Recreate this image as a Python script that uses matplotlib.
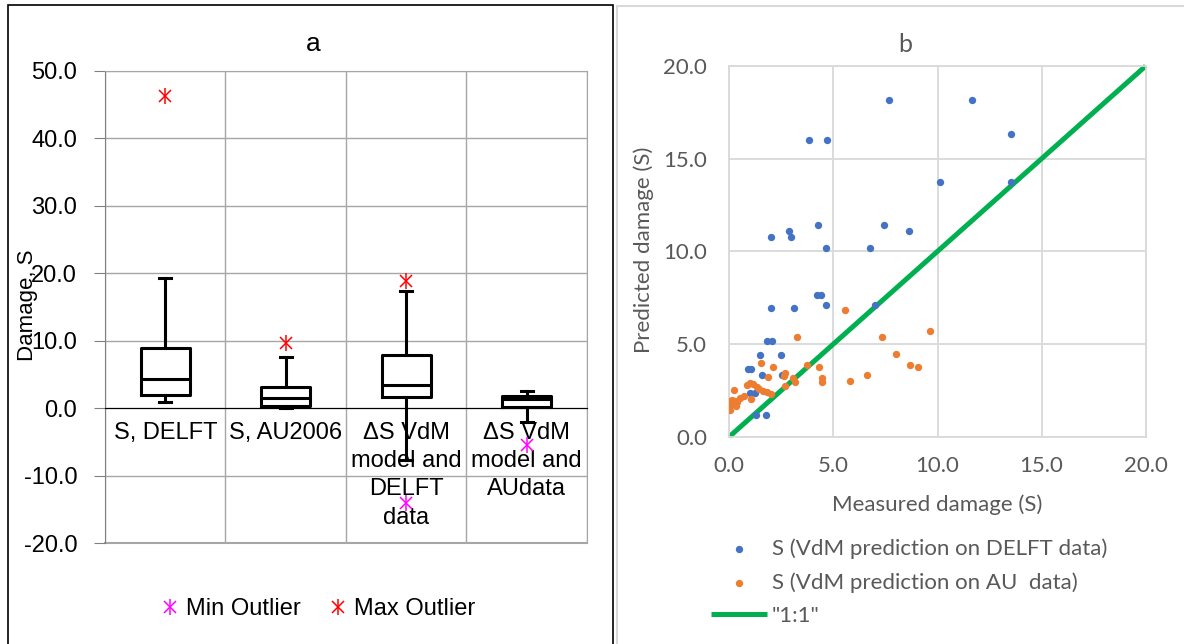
import matplotlib
matplotlib.use("Agg")
import matplotlib.pyplot as plt
from matplotlib.patches import Rectangle
from matplotlib.lines import Line2D
from matplotlib.ticker import FormatStrFormatter

plt.rcParams['axes.unicode_minus'] = False
plt.rcParams['font.family'] = 'Liberation Sans'

# ---- panel a: box plot statistics
categories = ["S, DELFT", "S, AU2006", "ΔS VdM\nmodel and\nDELFT\ndata", "ΔS VdM\nmodel and\nAUdata"]
whisker_low = [0.9, 0.0, -7.7, -2.1]
q1 = [2.0, 0.4, 1.7, 0.25]
median = [4.3, 1.55, 3.45, 1.35]
q3 = [8.9, 3.2, 7.9, 1.75]
whisker_high = [19.3, 7.55, 17.4, 2.55]
max_outlier_pos = [1, 2, 3]
max_outlier = [46.3, 9.7, 18.9]
min_outlier_pos = [3, 4]
min_outlier = [-14.1, -5.5]
yticks_a = [-20, -10, 0, 10, 20, 30, 40, 50]

# ---- panel b: measured vs predicted damage
delft_measured = [7.66, 11.68, 3.84, 4.67, 13.52, 10.1, 13.55, 4.24, 7.42, 2.88,
                  8.62, 2.0, 2.94, 4.64, 6.77, 4.19, 4.4, 4.66, 7.02, 2.0,
                  3.12, 1.79, 2.03, 1.49, 2.46, 0.88, 1.04, 1.58, 2.53, 0.99,
                  1.22, 1.28, 1.74]
delft_predicted = [18.15, 18.15, 15.99, 15.99, 16.33, 13.72, 13.72, 11.42, 11.42, 11.1,
                   11.1, 10.79, 10.79, 10.2, 10.2, 7.63, 7.63, 7.1, 7.1, 6.92,
                   6.92, 5.18, 5.18, 4.41, 4.41, 3.65, 3.65, 3.33, 3.33, 2.37,
                   2.34, 1.17, 1.17]
au_measured = [5.57, 9.65, 3.25, 7.33, 8.02, 8.7, 9.06, 5.81, 6.62,
               1.52, 2.1, 3.71, 4.29, 1.87, 2.67, 2.64, 3.04, 3.17, 4.43, 4.43,
               2.67, 0.83, 0.99, 1.15, 1.31, 1.44, 1.63, 1.79, 1.98, 1.06,
               0.24, 0.7, 0.51, 0.35, 0.11, 0.0, 0.03, 0.03, 0.32, 0.27]
au_predicted = [6.85, 5.7, 5.4, 5.38, 4.44, 3.85, 3.74, 2.99, 3.33,
                3.99, 3.74, 3.87, 3.74, 3.24, 3.42, 3.29, 3.18, 2.95, 3.18, 2.93,
                2.73, 2.79, 2.88, 2.84, 2.7, 2.55, 2.46, 2.39, 2.3, 2.03,
                2.52, 2.19, 2.07, 1.89, 1.98, 1.94, 1.71, 1.44, 1.65, 1.94]
line_x = [0, 20]
line_y = [0, 20]
ticks_b = [0, 5, 10, 15, 20]

W, H = 1184, 644
fig = plt.figure(figsize=(W / 100, H / 100), dpi=100)

# panel frames
fig.add_artist(Rectangle((8 / W, -0.05), (613 - 8) / W, 1.05 - 5 / H, transform=fig.transFigure,
                         fill=False, ec='black', lw=1.2))
fig.add_artist(Rectangle((617 / W, -0.05), 0.5, 1.05 - 6 / H, transform=fig.transFigure,
                         fill=False, ec='#d9d9d9', lw=1.5))

# ================= panel a
grid_a = '#a6a6a6'
ax1 = fig.add_axes([105 / W, 1 - 543.3 / H, 482 / W, 472.5 / H])
pos = [1, 2, 3, 4]
stats = [dict(whislo=whisker_low[i], q1=q1[i], med=median[i], q3=q3[i], whishi=whisker_high[i])
         for i in range(len(pos))]
lp = dict(color='black', lw=2.2)
ax1.bxp(stats, positions=pos, widths=0.41, capwidths=0.1, showfliers=False,
        boxprops=lp, whiskerprops=lp, capprops=lp, medianprops=lp, manage_ticks=False)

ax1.plot(max_outlier_pos, max_outlier, ls='none', marker='x', ms=9, mew=1.1, color='red', zorder=4)
ax1.plot(max_outlier_pos, max_outlier, ls='none', marker='|', ms=12, mew=1.1, color='red', zorder=4)
ax1.plot(min_outlier_pos, min_outlier, ls='none', marker='x', ms=9, mew=1.1, color='magenta', zorder=4)
ax1.plot(min_outlier_pos, min_outlier, ls='none', marker='|', ms=12, mew=1.1, color='magenta', zorder=4)

# category labels hang just under the zero line, like the Excel axis labels
for p, cat in zip(pos, categories):
    ax1.annotate(cat, xy=(p, 0), xytext=(0, -10), textcoords='offset points', ha='center', va='top',
                 fontsize=17, linespacing=1.36, zorder=1, annotation_clip=False)

ax1.set_xlim(0.5, 4.5)
ax1.set_ylim(-20, 50)
ax1.set_axisbelow(True)
ax1.set_yticks(yticks_a)
ax1.yaxis.set_major_formatter(FormatStrFormatter('%.1f'))
ax1.set_xticks([])
ax1.set_xticks([0.5, 1.5, 2.5, 3.5, 4.5], minor=True)
ax1.yaxis.grid(True, color=grid_a, lw=1)
ax1.xaxis.grid(True, which='minor', color=grid_a, lw=1)
ax1.tick_params(axis='x', which='minor', length=6, color=grid_a, direction='out', labelbottom=False)
ax1.tick_params(axis='y', length=8, color='#808080', labelsize=17, pad=12)
ax1.spines['bottom'].set_position(('data', 0))
ax1.spines['bottom'].set_color('black')
ax1.spines['bottom'].set_linewidth(0.8)
ax1.spines['left'].set_color('#808080')
for s in ['top', 'right']:
    ax1.spines[s].set_color(grid_a)
ax1.axhline(yticks_a[0], color=grid_a, lw=1.5, clip_on=False, zorder=0.5)

fig.text(313 / W, 1 - 44 / H, 'a', ha='center', va='center', fontsize=19)
fig.text(27 / W, 1 - 305 / H, 'Damage, S', rotation=90, ha='center', va='center', fontsize=16)

mn = (Line2D([], [], ls='none', marker='x', ms=9, mew=1.1, color='magenta'),
      Line2D([], [], ls='none', marker='|', ms=12, mew=1.1, color='magenta'))
mx = (Line2D([], [], ls='none', marker='x', ms=9, mew=1.1, color='red'),
      Line2D([], [], ls='none', marker='|', ms=12, mew=1.1, color='red'))
fig.legend([mn, mx], ['Min Outlier', 'Max Outlier'], loc='center', bbox_to_anchor=(318 / W, 1 - 609 / H),
           ncol=2, frameon=False, prop=dict(size=17), handlelength=0.8,
           handletextpad=0.25, columnspacing=1.2, borderpad=0)

# ================= panel b
fb = 'Lato'
grey_txt = '#595959'
grid_b = '#d9d9d9'
ax2 = fig.add_axes([729.3 / W, 1 - 436.7 / H, 416.4 / W, 370.7 / H])
ax2.plot(line_x, line_y, color='#00b050', lw=3.6, solid_capstyle='butt', clip_on=False, zorder=2,
         label='"1:1"')
ax2.scatter(delft_measured, delft_predicted, s=28, color='#4472c4', linewidths=0, zorder=3,
            label='S (VdM prediction on DELFT data)')
ax2.scatter(au_measured, au_predicted, s=28, color='#ed7d31', linewidths=0, zorder=3,
            label='S (VdM prediction on AU  data)')
ax2.set_xlim(0, 20)
ax2.set_ylim(0, 20)
ax2.set_xticks(ticks_b)
ax2.set_yticks(ticks_b)
ax2.xaxis.set_major_formatter(FormatStrFormatter('%.1f'))
ax2.yaxis.set_major_formatter(FormatStrFormatter('%.1f'))
ax2.set_axisbelow(True)
ax2.grid(True, color=grid_b, lw=1.3)
ax2.tick_params(length=0, labelsize=16, labelcolor=grey_txt)
ax2.tick_params(axis='x', pad=14)
ax2.tick_params(axis='y', pad=16)
for lab in ax2.get_xticklabels() + ax2.get_yticklabels():
    lab.set_fontfamily(fb)
for s in ax2.spines.values():
    s.set_color(grid_b)
    s.set_linewidth(1.3)

fig.text(905 / W, 1 - 44 / H, 'b', ha='center', va='center', fontsize=18, family=fb, color=grey_txt)
fig.text(937 / W, 1 - 505 / H, 'Measured damage (S)', ha='center', va='center', fontsize=16,
         family=fb, color=grey_txt)
fig.text(644 / W, 1 - 250 / H, 'Predicted damage (S)', rotation=90, ha='center', va='center',
         fontsize=16, family=fb, color=grey_txt)

h, l = ax2.get_legend_handles_labels()
order = [1, 2, 0]
leg = fig.legend([h[i] for i in order], [l[i] for i in order], loc='upper left',
                 bbox_to_anchor=(711 / W, 1 - 538 / H), frameon=False,
                 prop=dict(family=fb, size=16), handlelength=2.5, handletextpad=0.25,
                 labelspacing=0.6, borderpad=0, borderaxespad=0, scatterpoints=1)
for t in leg.get_texts():
    t.set_color(grey_txt)

fig.savefig('out.png', dpi=100)
